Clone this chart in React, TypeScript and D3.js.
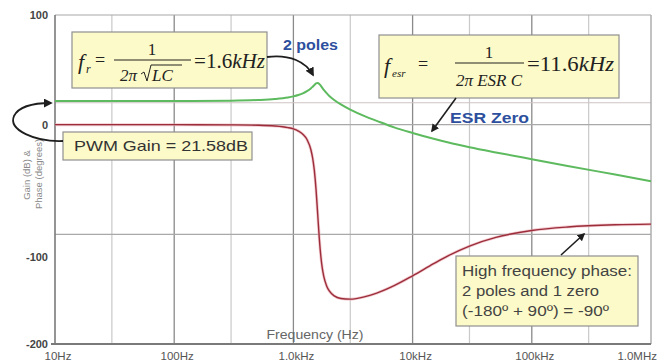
import React from "react";
import * as d3 from "d3";

const freqHz = [10, 100, 300, 500, 700, 900, 1000, 1100, 1200, 1300, 1400, 1450, 1500, 1550, 1600, 1650, 1700, 1750, 1800, 1900, 2000, 2200, 2500, 3000, 4000, 5000, 7000, 10000, 15000, 20000, 30000, 50000, 100000, 200000, 500000, 1000000];
const gainDb = [21.6, 21.6, 21.9, 22.5, 23.4, 24.8, 25.8, 27.0, 28.5, 30.5, 33.0, 34.6, 36.2, 37.6, 38.0, 37.1, 35.4, 33.5, 31.7, 28.7, 26.2, 22.5, 18.5, 13.8, 7.6, 3.5, -2.5, -7.6, -12.9, -16.3, -20.5, -25.3, -31.5, -37.6, -45.5, -51.5];
const phaseDeg = [0, 0, -0.2, -0.5, -1.2, -2.7, -3.9, -5.8, -8.7, -13.5, -22.6, -30.4, -42.2, -59.7, -82.2, -104.0, -120.3, -131.3, -138.5, -147.0, -151.6, -156.1, -158.5, -159.1, -156.8, -153.6, -146.8, -137.8, -126.8, -119.4, -110.7, -102.8, -96.5, -93.3, -91.3, -90.7];

const xTickValues = [10, 100, 1000, 10000, 100000, 1000000];
const xTickLabels = ["10Hz", "100Hz", "1.0kHz", "10kHz", "100kHz", "1.0MHz"];
const xMinorGrid = [30, 300, 3000, 30000, 300000];
const yTickValues = [100, 0, -100, -200];
const yGridValues = [20, 0, -100];

const W = 662;
const H = 363;
const L = 55, R = 651, T = 15, B = 344;

export default function App() {
  const x = d3.scaleLog().domain([10, 1e6]).range([L, R]);
  const y = d3.scaleLinear().domain([-200, 100]).range([B, T]);
  const line = d3
    .line<[number, number]>()
    .x((d) => x(d[0]))
    .y((d) => y(d[1]))
    .curve(d3.curveMonotoneX);
  const gainPath = line(freqHz.map((f, i) => [f, gainDb[i]]) as [number, number][]) || "";
  const phasePath = line(freqHz.map((f, i) => [f, phaseDeg[i]]) as [number, number][]) || "";

  const boxFill = "#fcfac8";
  const boxStroke = "#8f8f8f";
  const serif = "'Liberation Serif', 'Times New Roman', serif";
  const sans = "'Liberation Sans', Arial, sans-serif";
  const blue = "#2d4f9e";

  return (
    <svg width={W} height={H} style={{ position: "absolute", left: 0, top: 0, background: "#fff" }}>
      <defs>
        <marker id="ah" viewBox="0 0 10 10" refX="8" refY="5" markerWidth="5" markerHeight="5" orient="auto-start-reverse">
          <path d="M0,0 L10,5 L0,10 z" fill="#1e1e1e" />
        </marker>
      </defs>
      <rect x={0} y={0} width={W} height={H} fill="#fff" />
      {/* grid */}
      {xMinorGrid.map((v) => (
        <line key={"mx" + v} x1={x(v)} x2={x(v)} y1={T} y2={B} stroke="#c9c9c9" strokeWidth={1.2} />
      ))}
      {xTickValues.slice(1, -1).map((v) => (
        <line key={"gx" + v} x1={x(v)} x2={x(v)} y1={T} y2={B} stroke="#8a8a8a" strokeWidth={1.3} />
      ))}
      {yGridValues.map((v) => (
        <line key={"gy" + v} x1={L} x2={R} y1={y(v)} y2={y(v)} stroke={v === 20 ? "#cfc4c4" : "#a9a9a9"} strokeWidth={1.2} />
      ))}
      {/* frame */}
      <line x1={L} x2={R} y1={T} y2={T} stroke="#a8a8a8" strokeWidth={1.2} />
      <line x1={R} x2={R} y1={T} y2={B} stroke="#a8a8a8" strokeWidth={1.4} />
      <line x1={L} x2={L} y1={T} y2={B} stroke="#7a7a7a" strokeWidth={1.6} />
      <line x1={L - 4} x2={R} y1={B} y2={B} stroke="#7a7a7a" strokeWidth={2} />

      {/* curves */}
      <path d={phasePath} fill="none" stroke="#e9a9b0" strokeWidth={3} opacity={0.6} />
      <path d={phasePath} fill="none" stroke="#9c2d3a" strokeWidth={1.4} />
      <path d={gainPath} fill="none" stroke="#5dba5e" strokeWidth={2} />

      {/* y tick labels */}
      {yTickValues.map((v) => (
        <text
          key={"yt" + v}
          x={48}
          y={y(v) + (v === -100 ? 23 : 0)}
          dy="0.35em"
          textAnchor="end"
          fontFamily={sans}
          fontWeight="bold"
          fontSize={11}
          fill="#444"
        >
          {v}
        </text>
      ))}
      {/* y title */}
      <text transform="translate(30,175) rotate(-90)" textAnchor="middle" fontFamily={sans} fontSize={9.5} fill="#8a8a8a">
        Gain (dB) &amp;
      </text>
      <text transform="translate(42,174) rotate(-90)" textAnchor="middle" fontFamily={sans} fontSize={9.5} fill="#8a8a8a">
        Phase (degrees)
      </text>
      {/* x tick labels */}
      {xTickValues.map((v, i) => {
        const last = i === xTickValues.length - 1;
        return (
          <text
            key={"xt" + v}
            x={last ? x(v) + 6 : x(v) + 3}
            y={359.5}
            textAnchor={last ? "end" : "middle"}
            fontFamily={sans}
            fontSize={11.5}
            fill="#555"
          >
            {xTickLabels[i]}
          </text>
        );
      })}
      <text x={315} y={339} textAnchor="middle" fontFamily={sans} fontSize={13} fill="#666" textLength={97} lengthAdjust="spacingAndGlyphs">
        Frequency (Hz)
      </text>

      {/* f_r box */}
      <rect x={72} y={32} width={195} height={56} fill={boxFill} stroke={boxStroke} strokeWidth={1.2} />
      <text x={78} y={69} fontFamily={serif} fontStyle="italic" fontSize={22} fill="#222">f</text>
      <text x={86} y={73} fontFamily={serif} fontStyle="italic" fontSize={12} fill="#222">r</text>
      <text x={95} y={66} fontFamily={serif} fontSize={18} fill="#222">=</text>
      <text x={152} y={55} textAnchor="middle" fontFamily={serif} fontSize={17} fill="#222">1</text>
      <line x1={114} x2={191} y1={60} y2={60} stroke="#222" strokeWidth={1} />
      <text x={120} y={81} fontFamily={serif} fontStyle="italic" fontSize={17} fill="#222">2π</text>
      <path d="M141,74 L144,72 L147,81 L151,65 L182,65" fill="none" stroke="#222" strokeWidth={1} />
      <text x={152} y={81} fontFamily={serif} fontStyle="italic" fontSize={17} fill="#222">LC</text>
      <text x={194} y={68} fontFamily={serif} fontSize={20} fill="#222" textLength={71} lengthAdjust="spacingAndGlyphs">
        =1.6<tspan fontStyle="italic">kHz</tspan>
      </text>

      {/* 2 poles */}
      <text x={283} y={50} fontFamily={sans} fontWeight="bold" fontSize={14} fill={blue} textLength={55} lengthAdjust="spacingAndGlyphs">2 poles</text>
      <path d="M267,57 C290,54 306,62 313,75" fill="none" stroke="#1e1e1e" strokeWidth={1.8} markerEnd="url(#ah)" />

      {/* f_esr box */}
      <rect x={379} y={35} width={240} height={63} fill={boxFill} stroke={boxStroke} strokeWidth={1.2} />
      <text x={384} y={73} fontFamily={serif} fontStyle="italic" fontSize={22} fill="#222">f</text>
      <text x={392} y={77} fontFamily={serif} fontStyle="italic" fontSize={11} fill="#222">esr</text>
      <text x={418} y={70} fontFamily={serif} fontSize={18} fill="#222">=</text>
      <text x={489} y={58} textAnchor="middle" fontFamily={serif} fontSize={17} fill="#222">1</text>
      <line x1={455} x2={524} y1={63} y2={63} stroke="#222" strokeWidth={1} />
      <text x={489} y={86} textAnchor="middle" fontFamily={serif} fontStyle="italic" fontSize={17} fill="#222">2π ESR C</text>
      <text x={527} y={71} fontFamily={serif} fontSize={20} fill="#222" textLength={87} lengthAdjust="spacingAndGlyphs">
        =11.6<tspan fontStyle="italic">kHz</tspan>
      </text>

      {/* ESR zero */}
      <text x={450} y={123} fontFamily={sans} fontWeight="bold" fontSize={15} fill={blue} textLength={79} lengthAdjust="spacingAndGlyphs">ESR Zero</text>
      <line x1={456} y1={98} x2={432} y2={131} stroke="#1e1e1e" strokeWidth={1.6} markerEnd="url(#ah)" />

      {/* PWM box */}
      <rect x={63} y={132} width={189} height={28} fill={boxFill} stroke={boxStroke} strokeWidth={1.2} />
      <text x={74} y={151} fontFamily={sans} fontSize={15} fill="#333" textLength={174} lengthAdjust="spacingAndGlyphs">PWM Gain = 21.58dB</text>
      <path d="M63,141 C35,142 8,130 14,116 C19,106 36,103 51,103" fill="none" stroke="#1e1e1e" strokeWidth={1.8} markerEnd="url(#ah)" />

      {/* High frequency box */}
      <rect x={456} y={256} width={182} height={70} fill={boxFill} stroke={boxStroke} strokeWidth={1.2} />
      <text fontFamily={sans} fontSize={14} fill="#444">
        <tspan x={462} y={276} textLength={170} lengthAdjust="spacingAndGlyphs">High frequency phase:</tspan>
        <tspan x={462} y={296} textLength={137} lengthAdjust="spacingAndGlyphs">2 poles and 1 zero</tspan>
        <tspan x={462} y={316} textLength={147} lengthAdjust="spacingAndGlyphs">(-180º + 90º) = -90º</tspan>
      </text>
      <line x1={561} y1={255} x2={584} y2={234} stroke="#1e1e1e" strokeWidth={1.6} markerEnd="url(#ah)" />
    </svg>
  );
}
